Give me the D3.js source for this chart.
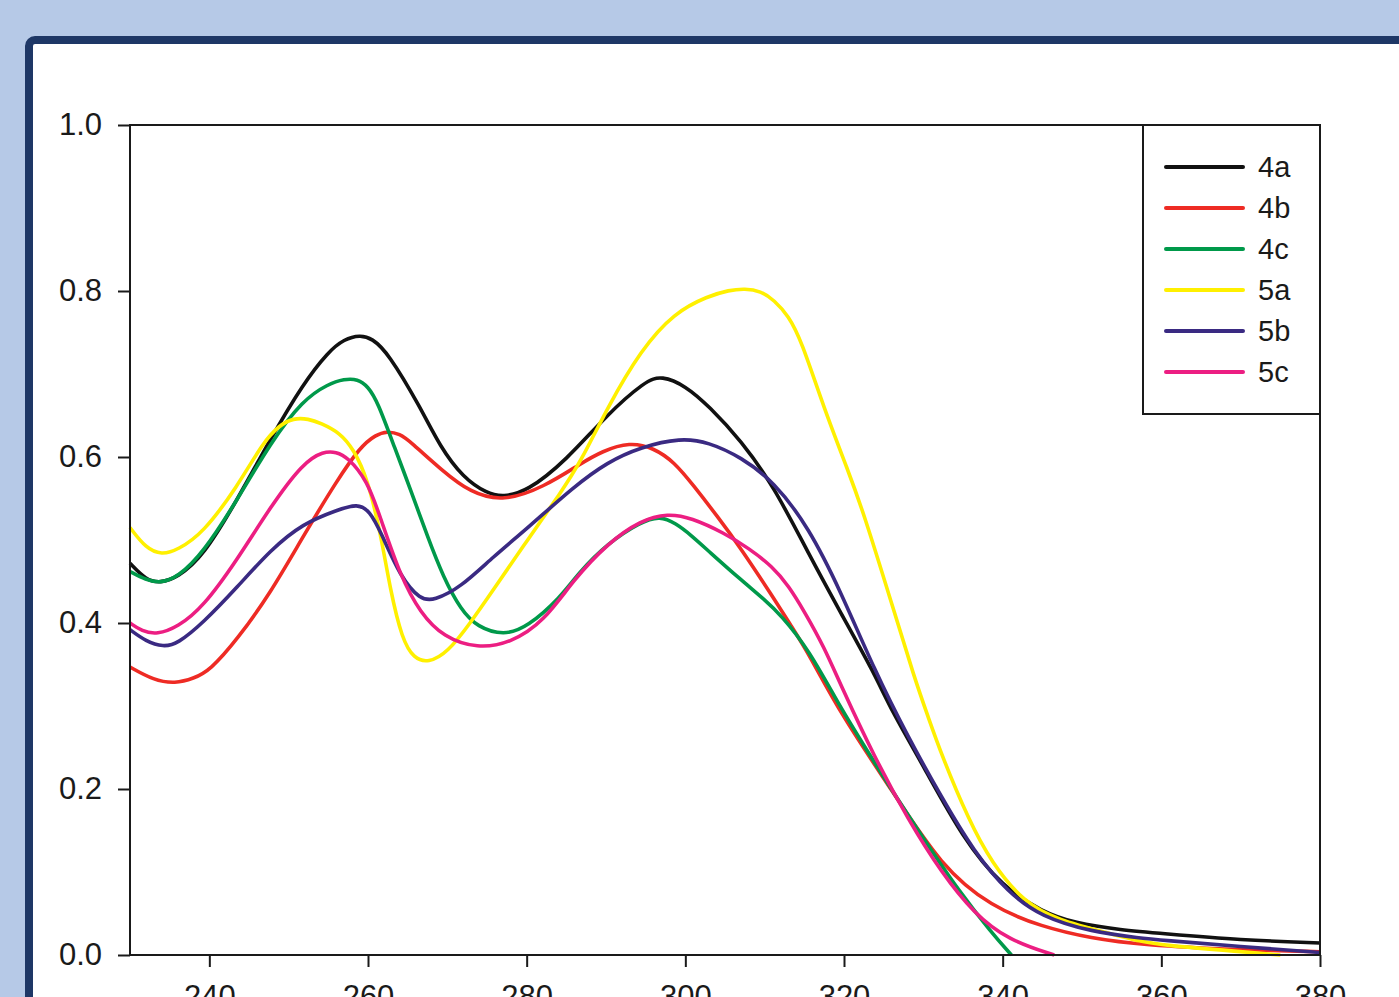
<!DOCTYPE html>
<html>
<head>
<meta charset="utf-8">
<script src="https://cdn.jsdelivr.net/npm/d3@7"></script>
<style>
  body { margin: 0; background: #b6c9e7; }
  svg { display: block; font-family: "Liberation Sans", Arial, sans-serif; }
</style>
</head>
<body>
<svg></svg>
<script>
// absorbance spectra, [wavelength nm, absorbance]
const s4a = [[230,0.472],[232,0.452],[233.8,0.448],[236,0.455],[239.2,0.48],[243.5,0.548],[247.7,0.622],[251.8,0.688],[255,0.727],[257,0.742],[259,0.747],[260.5,0.743],[262.5,0.726],[266.6,0.66],[269.1,0.612],[272,0.575],[275,0.556],[277,0.552],[280,0.558],[285,0.596],[290,0.65],[295,0.692],[297,0.698],[300,0.686],[303,0.661],[307,0.62],[311.2,0.564],[315.5,0.484],[319.6,0.412],[323.8,0.34],[326,0.294],[330,0.228],[335,0.14],[340,0.082],[345,0.052],[349,0.0385],[355,0.03],[360,0.026],[370,0.018],[380,0.0145]];
const s4b = [[230,0.347],[233,0.331],[235.7,0.327],[238,0.333],[240.1,0.343],[243.5,0.38],[247.7,0.436],[251.8,0.504],[256.1,0.572],[259,0.612],[261,0.627],[262.4,0.631],[264,0.628],[265.4,0.618],[269.3,0.584],[272.9,0.557],[277.1,0.546],[282.2,0.564],[286.8,0.592],[289.5,0.607],[293,0.618],[296,0.611],[298.6,0.594],[301,0.566],[304,0.529],[307,0.49],[311,0.432],[313.3,0.397],[315.5,0.364],[319.6,0.29],[326,0.199],[332.3,0.106],[338.6,0.058],[344.9,0.034],[351.2,0.02],[357.5,0.012],[370,0.006],[380,0.004]];
const s4c = [[230,0.462],[232,0.452],[233.8,0.448],[236,0.455],[239.2,0.484],[243.5,0.548],[247.7,0.617],[251.8,0.669],[255,0.688],[257,0.694],[258.7,0.694],[260,0.685],[261.2,0.667],[263.4,0.61],[265.4,0.56],[267.5,0.504],[269.5,0.455],[271.7,0.416],[273.8,0.395],[277.1,0.385],[280.1,0.395],[284.3,0.431],[286.5,0.46],[290.2,0.496],[294.4,0.522],[296.8,0.529],[298.8,0.52],[300.7,0.506],[303,0.486],[307,0.452],[310,0.428],[312,0.41],[315.5,0.369],[319.6,0.297],[323,0.245],[326,0.199],[330.1,0.139],[334.4,0.078],[338.6,0.027],[341.1,0.0]];
const s5a = [[230,0.515],[232,0.49],[234,0.482],[236,0.488],[239.2,0.508],[243.5,0.564],[246.8,0.618],[248.8,0.638],[250.6,0.647],[252.5,0.646],[254,0.641],[256.5,0.629],[258.2,0.609],[259.9,0.575],[261.6,0.508],[262.8,0.44],[264.3,0.38],[265.8,0.357],[267.6,0.352],[270,0.364],[272.9,0.4],[275.8,0.44],[280.1,0.5],[284.3,0.557],[286.8,0.594],[290.2,0.66],[294.4,0.729],[298.6,0.774],[302.9,0.794],[305.5,0.801],[307.5,0.803],[309.5,0.8],[311.2,0.789],[313,0.77],[314.6,0.741],[317.5,0.658],[320.5,0.584],[322.5,0.532],[326,0.424],[328.9,0.333],[330.6,0.287],[332.3,0.241],[335.7,0.163],[338.6,0.111],[342.7,0.063],[347,0.042],[353.3,0.0265],[357.5,0.016],[360,0.012],[370,0.004],[375,0.0]];
const s5b = [[230,0.392],[232,0.378],[234.2,0.371],[236,0.375],[239.2,0.4],[243.5,0.443],[247.7,0.488],[251.8,0.52],[256.1,0.536],[258.7,0.544],[260.2,0.535],[261.6,0.51],[264.1,0.455],[266.6,0.428],[268.3,0.427],[271.7,0.443],[275.8,0.48],[280.1,0.514],[285.9,0.564],[290.2,0.594],[294.4,0.612],[299.4,0.623],[302.9,0.618],[307,0.6],[311.2,0.57],[315.5,0.516],[319.6,0.438],[323.8,0.344],[328.1,0.262],[332.3,0.19],[336.4,0.124],[340.7,0.075],[344.9,0.046],[351.2,0.028],[357.5,0.02],[360,0.018],[370,0.01],[380,0.003]];
const s5c = [[230,0.4],[231.5,0.39],[233.4,0.386],[236,0.395],[239.2,0.419],[243.5,0.476],[247.7,0.54],[251.8,0.593],[254.4,0.607],[256,0.606],[257.4,0.6],[259.9,0.572],[261.6,0.526],[264.1,0.456],[266.6,0.412],[269.5,0.383],[273.8,0.369],[278,0.376],[282.2,0.402],[285.9,0.452],[290.2,0.496],[294.4,0.524],[297.8,0.532],[300.7,0.527],[305,0.508],[308,0.49],[311,0.468],[313,0.445],[315,0.414],[317.5,0.371],[319.6,0.325],[323.8,0.239],[328.1,0.163],[332.3,0.099],[336.4,0.05],[340.7,0.018],[346.5,0.0]];

const seriesNames = ["4a", "4b", "4c", "5a", "5b", "5c"];
const seriesColors = ["#111111", "#ee2b24", "#00994a", "#fff000", "#3a2a82", "#ec1e82"];
const seriesData = [s4a, s4b, s4c, s5a, s5b, s5c];

const xTicks = [240, 260, 280, 300, 320, 340, 360, 380];
const yTicks = [0.0, 0.2, 0.4, 0.6, 0.8, 1.0];

let width = 1399;
let height = 997;

let svg = d3.select("svg").attr("width", width).attr("height", height);

// slide background + navy frame
svg.append("rect").attr("width", width).attr("height", height).attr("fill", "#b6c9e7");
svg
  .append("rect")
  .attr("x", 29)
  .attr("y", 40)
  .attr("width", width)
  .attr("height", height)
  .attr("rx", 6)
  .attr("fill", "#ffffff")
  .attr("stroke", "#1e3766")
  .attr("stroke-width", 8);

let x = d3.scaleLinear().domain([230, 380]).range([130, 1320]);
let y = d3.scaleLinear().domain([0, 1]).range([955, 125]);

let line = d3
  .line()
  .x((d) => x(d[0]))
  .y((d) => y(d[1]))
  .curve(d3.curveBasis);

svg
  .append("g")
  .selectAll(".spectrum")
  .data(seriesData)
  .join("path")
  .attr("class", "spectrum")
  .attr("d", line)
  .style("fill", "none")
  .style("stroke", (d, i) => seriesColors[i])
  .style("stroke-width", 3.6)
  .style("stroke-linejoin", "round");

// axes
let yAxis = d3.axisLeft(y).tickValues(yTicks).tickSize(12).tickPadding(16).tickFormat(d3.format(".1f"));
let xAxis = d3.axisBottom(x).tickValues(xTicks).tickSize(12).tickPadding(18).tickFormat(d3.format("d"));

let gy = svg.append("g").attr("transform", `translate(${x(230)},0)`).call(yAxis);
let gx = svg.append("g").attr("transform", `translate(0,${y(0)})`).call(xAxis);

for (let g of [gy, gx]) {
  g.select(".domain").remove();
  g.selectAll("line").attr("stroke", "#1a1a1a").attr("stroke-width", 2);
  g.selectAll("text").attr("fill", "#1a1a1a").style("font-size", "31px");
}

// plot frame
svg
  .append("rect")
  .attr("x", x(230))
  .attr("y", y(1))
  .attr("width", x(380) - x(230))
  .attr("height", y(0) - y(1))
  .attr("fill", "none")
  .attr("stroke", "#1a1a1a")
  .attr("stroke-width", 2);

// legend
let legend = svg.append("g");
legend
  .append("rect")
  .attr("x", 1143)
  .attr("y", y(1))
  .attr("width", x(380) - 1143)
  .attr("height", 289)
  .attr("fill", "#ffffff")
  .attr("stroke", "#1a1a1a")
  .attr("stroke-width", 2);

let yPlacement = 0;
for (let i = 0; i < seriesNames.length; i++) {
  legend
    .append("line")
    .attr("x1", 1166)
    .attr("x2", 1243)
    .attr("y1", 167 + yPlacement)
    .attr("y2", 167 + yPlacement)
    .attr("stroke", seriesColors[i])
    .attr("stroke-width", 4)
    .attr("stroke-linecap", "round");

  legend
    .append("text")
    .attr("x", 1258)
    .attr("y", 167 + yPlacement)
    .attr("dy", "0.36em")
    .attr("fill", "#1a1a1a")
    .style("font-size", "29px")
    .text(seriesNames[i]);

  yPlacement += 41;
}
</script>
</body>
</html>
